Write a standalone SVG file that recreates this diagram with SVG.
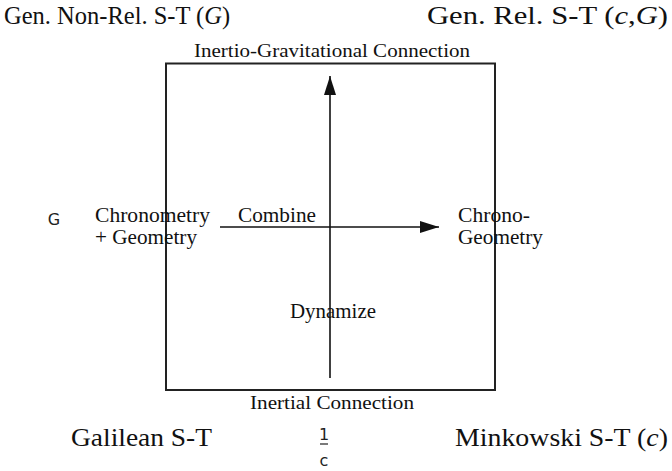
<svg xmlns="http://www.w3.org/2000/svg" width="672" height="471" viewBox="0 0 672 471">
<style>
.t{font-family:"Liberation Serif","Times New Roman",serif;fill:#111}
.big{font-size:26px}
.mid{font-size:21px}
.lab{font-size:19px}
.sans{font-family:"DejaVu Sans","Liberation Sans",sans-serif;fill:#222;font-size:16px}
.ln{stroke:#111;stroke-width:1.6;fill:none}
</style>
<defs>
<marker id="ah" markerWidth="20" markerHeight="12" viewBox="0 0 20 12" refX="19" refY="6" orient="auto" markerUnits="userSpaceOnUse">
<path d="M0,0 L19,6 L0,12 Z" fill="#111"/>
</marker>
</defs>
<rect x="0" y="0" width="672" height="471" fill="#fff"/>
<g id="box">
<rect x="166" y="63.5" width="329" height="326.5" fill="none" stroke="#222" stroke-width="2"/>
</g>
<g id="connectors">
<line class="ln" x1="330" y1="378" x2="330" y2="76" marker-end="url(#ah)"/>
<line class="ln" x1="220" y1="227" x2="439" y2="227" marker-end="url(#ah)"/>
</g>
<g id="corner-gnr"><text class="t" font-size="24.5" x="4" y="24">Gen. Non-Rel. S-T (<tspan font-style="italic">G</tspan>)</text></g>
<g id="corner-gr"><text class="t big" x="427" y="24" textLength="241" lengthAdjust="spacingAndGlyphs">Gen. Rel. S-T (<tspan font-style="italic">c</tspan>,<tspan font-style="italic">G</tspan>)</text></g>
<g id="corner-gal"><text class="t big" x="71" y="446" textLength="141" lengthAdjust="spacingAndGlyphs">Galilean S-T</text></g>
<g id="corner-mink"><text class="t big" x="455" y="446" textLength="213" lengthAdjust="spacingAndGlyphs">Minkowski S-T (<tspan font-style="italic">c</tspan>)</text></g>
<g id="label-top"><text class="t lab" x="332" y="57" text-anchor="middle" textLength="276" lengthAdjust="spacingAndGlyphs">Inertio-Gravitational Connection</text></g>
<g id="label-bottom"><text class="t lab" x="332" y="409" text-anchor="middle" textLength="164" lengthAdjust="spacingAndGlyphs">Inertial Connection</text></g>
<g id="node-left"><text class="t mid" x="95" y="222" textLength="115" lengthAdjust="spacingAndGlyphs">Chronometry</text><text class="t mid" x="95" y="244" textLength="102" lengthAdjust="spacingAndGlyphs">+ Geometry</text></g>
<g id="node-right"><text class="t mid" x="458" y="222" textLength="72" lengthAdjust="spacingAndGlyphs">Chrono-</text><text class="t mid" x="458" y="244" textLength="85" lengthAdjust="spacingAndGlyphs">Geometry</text></g>
<g id="label-combine"><text class="t mid" x="238" y="222" textLength="78" lengthAdjust="spacingAndGlyphs">Combine</text></g>
<g id="label-dynamize"><text class="t mid" x="290" y="318" textLength="86" lengthAdjust="spacingAndGlyphs">Dynamize</text></g>
<g id="axis-g"><text class="sans" x="54" y="225" text-anchor="middle">G</text></g>
<g id="axis-c">
<text class="sans" x="324" y="440" text-anchor="middle" font-size="14">1</text>
<line x1="320" y1="444" x2="328" y2="444" stroke="#222" stroke-width="1.2"/>
<text class="sans" x="324" y="466" text-anchor="middle" font-size="14">c</text>
</g>
</svg>
